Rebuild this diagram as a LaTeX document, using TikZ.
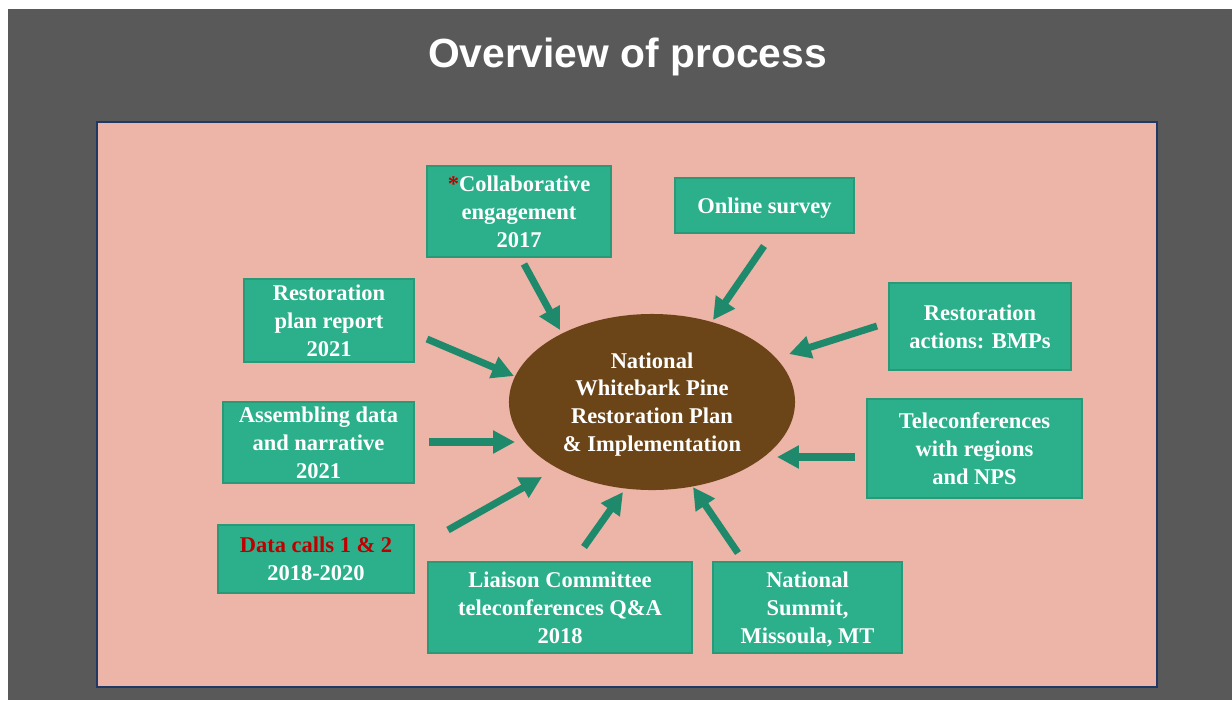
\documentclass[tikz,border=0pt]{standalone}
\usepackage{fontspec}
\setmainfont{Liberation Serif}
\newfontfamily\headfont{Liberation Sans}
\usetikzlibrary{shapes.geometric,arrows.meta}

\definecolor{slate}{HTML}{595959}
\definecolor{blush}{HTML}{EDB4A8}
\definecolor{navy}{HTML}{1F3864}
\definecolor{jade}{HTML}{2BB08B}
\definecolor{jadeline}{HTML}{2A9978}
\definecolor{feedgreen}{HTML}{1F8A6B}
\definecolor{bark}{HTML}{6B4518}
\definecolor{alert}{HTML}{C00000}

\begin{document}
\begin{tikzpicture}[x=0.025cm, y=-0.025cm,
	phase/.style={draw=jadeline, line width=0.8pt, fill=jade, text=white, align=center, inner sep=0pt,
		text depth=0pt, font=\bfseries\fontsize{16}{19.7}\selectfont},
	hub/.style={ellipse, fill=bark, text=white, align=center, inner sep=0pt, text depth=0pt,
		minimum width=7.15cm, minimum height=4.4cm, font=\bfseries\fontsize{16}{19.7}\selectfont},
	feed/.style={draw=feedgreen, line width=5pt, -{Triangle[length=15.6pt, width=15.6pt]}}]
		% slide background and panel
		\useasboundingbox (0,0) rectangle (1232,700);
		\fill[white] (0,0) rectangle (1232,700);
		\fill[slate] (8,9) rectangle (1232,700);
		\filldraw[fill=blush, draw=navy, line width=1.4pt] (97,122) rectangle (1157,687);
		\node[anchor=base, text=white, font=\headfont\bfseries\fontsize{29}{34}\selectfont] (title) at (627.5,67) {Overview of process};
		% centre of the process
		\node[hub] (hub) at (652,402) {National\\Whitebark Pine\\Restoration Plan\\\& Implementation};
		% contributing steps
		\node[phase, minimum width=4.6cm, minimum height=2.275cm] (collab) at (519,211.5) {{\color{alert}*}Collaborative\\engagement\\2017};
		\node[phase, minimum width=4.475cm, minimum height=1.375cm] (survey) at (764.5,205.5) {Online survey};
		\node[phase, minimum width=4.25cm, minimum height=2.075cm] (plan) at (329,320.5) {Restoration\\plan report\\2021};
		\node[phase, minimum width=4.55cm, minimum height=2.175cm] (actions) at (980,326.5) {Restoration\\actions: BMPs};
		\node[phase, minimum width=4.775cm, minimum height=2.025cm] (assembling) at (318.5,442.5) {Assembling data\\and narrative\\2021};
		\node[phase, minimum width=5.375cm, minimum height=2.475cm] (telecon) at (974.5,448.5) {Teleconferences\\with regions\\and NPS};
		\node[phase, minimum width=4.9cm, minimum height=1.7cm] (datacalls) at (316,559) {{\color{alert}Data calls 1 \& 2}\\2018-2020};
		\node[phase, minimum width=6.6cm, minimum height=2.275cm] (liaison) at (560,607.5) {Liaison Committee\\teleconferences Q\&A\\2018};
		\node[phase, minimum width=4.725cm, minimum height=2.275cm] (summit) at (807.5,607.5) {National\\Summit,\\Missoula, MT};
		% arrow ends
		\coordinate (collab-tail) at (524,264);     \coordinate (collab-tip) at (560,330);
		\coordinate (survey-tail) at (764,246);     \coordinate (survey-tip) at (713,320);
		\coordinate (plan-tail) at (427,339);       \coordinate (plan-tip) at (514,376);
		\coordinate (actions-tail) at (877,326);    \coordinate (actions-tip) at (789,354);
		\coordinate (assembling-tail) at (429,442); \coordinate (assembling-tip) at (515,442);
		\coordinate (telecon-tail) at (855,457);    \coordinate (telecon-tip) at (777,457);
		\coordinate (datacalls-tail) at (448,530);  \coordinate (datacalls-tip) at (542,477);
		\coordinate (liaison-tail) at (584,547);    \coordinate (liaison-tip) at (623,492);
		\coordinate (summit-tail) at (738,553);     \coordinate (summit-tip) at (693,487);
		\foreach \src in {collab,survey,plan,actions,assembling,telecon,datacalls,liaison,summit}
			\draw[feed] (\src-tail) -- (\src-tip);
	\end{tikzpicture}
\end{document}
